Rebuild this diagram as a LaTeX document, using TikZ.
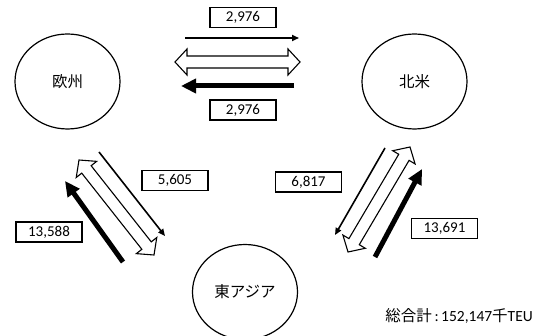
\documentclass[tikz,border=0pt]{standalone}
\usepackage{fontspec}
\setmainfont{Carlito}
\newfontfamily\cjk{Noto Sans CJK JP}
\usetikzlibrary{arrows.meta,calc,shapes.geometric}
\newcommand\hollowarrow[3]{%
  \coordinate (#1-a) at ($(#2)!12pt!(#3)$);
  \coordinate (#1-b) at ($(#3)!12pt!(#2)$);
  \draw[hollowstyle] (#2) -- ($(#1-a)!13pt!90:(#3)$) -- ($(#1-a)!6pt!90:(#3)$)
    -- ($(#1-b)!6pt!-90:(#2)$) -- ($(#1-b)!13pt!-90:(#2)$) -- (#3)
    -- ($(#1-b)!13pt!90:(#2)$) -- ($(#1-b)!6pt!90:(#2)$)
    -- ($(#1-a)!6pt!-90:(#3)$) -- ($(#1-a)!13pt!-90:(#3)$) -- cycle;}
\tikzset{
  region/.style={draw, ellipse, line width=1.2pt, minimum width=105pt, minimum height=95pt, inner sep=0pt, font=\cjk\fontsize{15.5}{18}\selectfont},
  numbox/.style={draw, line width=1.1pt, minimum width=66pt, minimum height=20pt, inner sep=0pt, font=\fontsize{15}{18}\selectfont},
  thinarrow/.style={line width=1.6pt, -{Triangle[length=7pt,width=6pt]}},
  thickarrow/.style={line width=5pt, -{Triangle[length=15pt,width=14pt]}},
  hollowstyle/.style={draw, fill=white, line width=1.1pt, line join=miter}
}
\begin{document}
\begin{tikzpicture}[x=1pt,y=-1pt]
\useasboundingbox (0,0) rectangle (535,336);
\clip (0,0) rectangle (535,336);
% regions
\node[region] (eu) at (67.5,81.5) {欧州};
\node[region] (na) at (414.5,81.5) {北米};
\node[region] (ea) at (245,292) {東アジア};
% horizontal arrows
\coordinate (h1s) at (185,38);  \coordinate (h1e) at (299,38);
\coordinate (h2s) at (175,62);  \coordinate (h2e) at (300,62);
\coordinate (h3s) at (294,86);  \coordinate (h3e) at (181,86);
\draw[thinarrow] (h1s) -- (h1e);
\hollowarrow{h2}{h2s}{h2e}
\draw[thickarrow] (h3s) -- (h3e);
% left diagonal arrows
\coordinate (l1s) at (99,152);  \coordinate (l1e) at (165,236);
\coordinate (l2s) at (79,160);  \coordinate (l2e) at (154,255);
\coordinate (l3s) at (123,262); \coordinate (l3e) at (65,181);
\draw[thinarrow] (l1s) -- (l1e);
\hollowarrow{l2}{l2s}{l2e}
\draw[thickarrow] (l3s) -- (l3e);
% right diagonal arrows
\coordinate (r1s) at (385,148); \coordinate (r1e) at (335,235);
\coordinate (r2s) at (410,147); \coordinate (r2e) at (348,252);
\coordinate (r3s) at (375,257); \coordinate (r3e) at (422,169);
\draw[thinarrow] (r1s) -- (r1e);
\hollowarrow{r2}{r2s}{r2e}
\draw[thickarrow] (r3s) -- (r3e);
% value boxes
\node[numbox] (b1) at (243,17.5) {2,976};
\node[numbox] (b2) at (243,110) {2,976};
\node[numbox] (b3) at (175,180.5) {5,605};
\node[numbox] (b4) at (49,232) {13,588};
\node[numbox] (b5) at (308.5,182) {6,817};
\node[numbox] (b6) at (444.5,228.5) {13,691};
% total
\node[anchor=east, inner sep=0pt, font=\fontsize{15.5}{18}\selectfont] (total) at (533,316) {{\cjk 総合計}\,:\,152,147{\cjk 千}TEU};
\end{tikzpicture}
\end{document}
